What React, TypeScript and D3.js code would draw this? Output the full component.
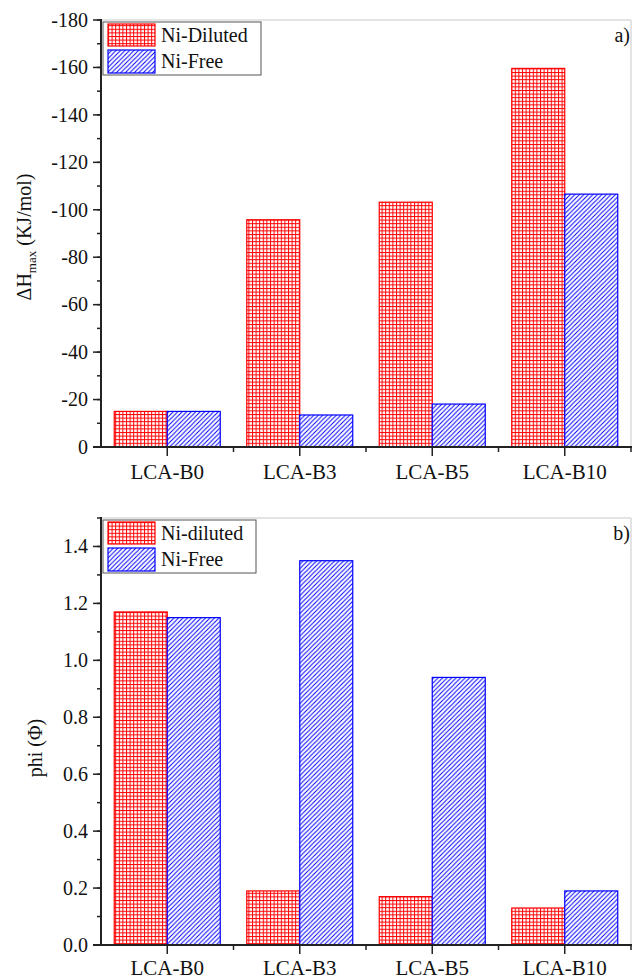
import React, { useEffect, useState } from "react";
import * as d3 from "d3";

const categories = ["LCA-B0", "LCA-B3", "LCA-B5", "LCA-B10"];
const seriesNames = ["Ni-Diluted", "Ni-Free"];
const seriesNamesB = ["Ni-diluted", "Ni-Free"];
const dhDiluted = [-15, -95.8, -103.2, -159.6];
const dhFree = [-15, -13.5, -18.1, -106.6];
const phiDiluted = [1.17, 0.19, 0.17, 0.13];
const phiFree = [1.15, 1.35, 0.94, 0.19];
const dhTicks = [0, -20, -40, -60, -80, -100, -120, -140, -160, -180];
const phiTicks = [0, 0.2, 0.4, 0.6, 0.8, 1.0, 1.2, 1.4];

const FONT = '"Liberation Serif", "FreeSerif", "Tinos", "Times New Roman", Times';
const RED = "#ff0000";
const BLUE = "#0000ff";
const AXIS = "#222";

const X0 = 101;
const X1 = 631;

function T(props: any) {
  const { children, ...rest } = props;
  return (
    <text style={{ fontFamily: FONT }} fill="#111" {...rest}>
      {children}
    </text>
  );
}

function Panel({
  top,
  bottom,
  domain,
  majorTicks,
  minorStep,
  fmt,
  a,
  b,
  names,
  letter,
  yLabel,
  yLabelX,
  yLabelY,
  legendW,
  xLabelDy,
}: any) {
  const x = d3.scaleBand<string>().domain(categories).range([X0, X1]).padding(0);
  const bw = x.bandwidth();
  const inner = d3.scaleBand<string>().domain(["a", "b"]).range([bw * 0.1, bw * 0.9]).padding(0);
  const y = d3.scaleLinear().domain(domain).range([bottom, top]);
  const minor: number[] = [];
  const lo = Math.min(domain[0], domain[1]);
  const hi = Math.max(domain[0], domain[1]);
  for (let v = lo; v <= hi + 1e-9; v += minorStep) minor.push(+v.toFixed(6));
  const bounds = categories.map((_, i) => X0 + bw * (i + 1));
  const base = y(0);
  return (
    <g>
      <line x1={X0} x2={X1} y1={top} y2={top} stroke="#c8c8c8" strokeWidth={1} />
      <line x1={X1} x2={X1} y1={top} y2={bottom} stroke="#c8c8c8" strokeWidth={1} />
      {categories.map((c, i) => {
        const vals = [a[i], b[i]];
        return (
          <g key={c}>
            {vals.map((v, j) => {
              const yy = y(v);
              const x0 = (x(c) as number) + (inner(j === 0 ? "a" : "b") as number);
              return (
                <rect
                  key={j}
                  x={x0}
                  y={Math.min(yy, base)}
                  width={inner.bandwidth()}
                  height={Math.abs(base - yy)}
                  fill={j === 0 ? "url(#gridRed)" : "url(#diagBlue)"}
                  stroke={j === 0 ? RED : BLUE}
                  strokeWidth={1.2}
                />
              );
            })}
          </g>
        );
      })}
      <line x1={X0} x2={X0} y1={top - 1} y2={bottom + 1} stroke={AXIS} strokeWidth={2} />
      {minor.map((v) => (
        <line key={"m" + v} x1={X0 - 4} x2={X0} y1={y(v)} y2={y(v)} stroke={AXIS} strokeWidth={1.5} />
      ))}
      {majorTicks.map((v: number) => (
        <g key={"t" + v}>
          <line x1={X0 - 8} x2={X0} y1={y(v)} y2={y(v)} stroke={AXIS} strokeWidth={1.5} />
          <T x={88} y={y(v)} dy="0.34em" textAnchor="end" fontSize={20}>
            {fmt(v)}
          </T>
        </g>
      ))}
      <line x1={X0 - 8} x2={X1 + 1} y1={bottom} y2={bottom} stroke={AXIS} strokeWidth={2} />
      {categories.map((c) => {
        const cx = (x(c) as number) + bw / 2;
        return (
          <g key={"x" + c}>
            <line x1={cx} x2={cx} y1={bottom} y2={bottom + 9} stroke={AXIS} strokeWidth={1.5} />
            <T x={cx} y={bottom + xLabelDy} textAnchor="middle" fontSize={21}>
              {c}
            </T>
          </g>
        );
      })}
      {bounds.map((bx, i) => (
        <line key={"b" + i} x1={bx} x2={bx} y1={bottom} y2={bottom + 5} stroke={AXIS} strokeWidth={1.5} />
      ))}
      <rect x={103} y={top + 2} width={legendW} height={53} fill="white" stroke="#555" strokeWidth={1} />
      <rect x={108} y={top + 4} width={47} height={22} fill="url(#gridRed)" stroke={RED} strokeWidth={1.2} />
      <rect x={108} y={top + 30} width={47} height={23} fill="url(#diagBlue)" stroke={BLUE} strokeWidth={1.2} />
      <T x={161} y={top + 22} fontSize={20}>{names[0]}</T>
      <T x={161} y={top + 48} fontSize={20}>{names[1]}</T>
      <T x={630} y={top + 22} textAnchor="end" fontSize={20}>{letter}</T>
      <T transform={`translate(${yLabelX},${yLabelY}) rotate(-90)`} textAnchor="middle" fontSize={20}>
        {yLabel}
      </T>
    </g>
  );
}

export default function App() {
  const [gen, setGen] = useState(0);
  useEffect(() => {
    document.body.style.margin = "0";
    document.body.style.fontFamily = FONT;
    const fonts: any = (document as any).fonts;
    if (fonts && fonts.load) {
      Promise.all([
        fonts.load('20px "Liberation Serif"'),
        fonts.load('21px "Liberation Serif"'),
        fonts.load('13px "Liberation Serif"'),
      ])
        .then(() => setGen(1))
        .catch(() => setGen(1));
    }
  }, []);
  const fmtDh = (v: number) => (v === 0 ? "0" : "-" + Math.abs(v));
  const fmtPhi = (v: number) => v.toFixed(1);
  return (
    <svg key={gen} width={632} height={979} style={{ position: "absolute", left: 0, top: 0, fontFamily: FONT }}>
      <rect x={0} y={0} width={632} height={979} fill="white" />
      <defs>
        <pattern id="gridRed" patternUnits="userSpaceOnUse" width={3.6} height={3.6}>
          <rect width={3.6} height={3.6} fill="white" />
          <line x1={0.5} x2={0.5} y1={0} y2={3.6} stroke={RED} strokeWidth={1} />
          <line x1={0} x2={3.6} y1={0.5} y2={0.5} stroke={RED} strokeWidth={1} />
        </pattern>
        <pattern id="diagBlue" patternUnits="userSpaceOnUse" width={4.5} height={4.5}>
          <rect width={4.5} height={4.5} fill="white" />
          <path
            d="M0,4.5 L4.5,0 M-1.125,1.125 L1.125,-1.125 M3.375,5.625 L5.625,3.375"
            stroke={BLUE}
            strokeWidth={1}
          />
        </pattern>
      </defs>
      <Panel
        top={20}
        bottom={447}
        domain={[0, -180]}
        majorTicks={dhTicks}
        minorStep={10}
        fmt={fmtDh}
        a={dhDiluted}
        b={dhFree}
        names={seriesNames}
        letter="a)"
        yLabel={
          <>
            <tspan>ΔH</tspan>
            <tspan fontSize={13} dy={5}>max</tspan>
            <tspan dy={-5}> (KJ/mol)</tspan>
          </>
        }
        yLabelX={31}
        yLabelY={237}
        legendW={158}
        xLabelDy={32}
      />
      <Panel
        top={518}
        bottom={945}
        domain={[0, 1.5]}
        majorTicks={phiTicks}
        minorStep={0.1}
        fmt={fmtPhi}
        a={phiDiluted}
        b={phiFree}
        names={seriesNamesB}
        letter="b)"
        yLabel={"phi (Φ)"}
        yLabelX={42}
        yLabelY={748}
        legendW={153}
        xLabelDy={30}
      />
    </svg>
  );
}
